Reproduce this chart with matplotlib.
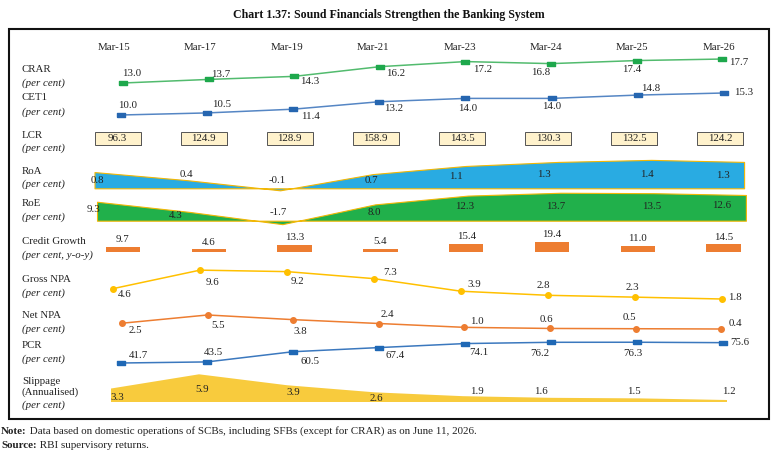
import matplotlib
matplotlib.use("Agg")
import matplotlib.pyplot as plt
from matplotlib.patches import Rectangle

plt.rcParams["font.family"] = ["Liberation Serif", "DejaVu Serif"]

W, H = 777, 458

periods = ["Mar-15", "Mar-17", "Mar-19", "Mar-21", "Mar-23", "Mar-24", "Mar-25", "Mar-26"]
crar = [13.0, 13.7, 14.3, 16.2, 17.2, 16.8, 17.4, 17.7]
cet1 = [10.0, 10.5, 11.4, 13.2, 14.0, 14.0, 14.8, 15.3]
lcr = [96.3, 124.9, 128.9, 158.9, 143.5, 130.3, 132.5, 124.2]
roa = [0.8, 0.4, -0.1, 0.7, 1.1, 1.3, 1.4, 1.3]
roe = [9.3, 4.3, -1.7, 8.0, 12.3, 13.7, 13.5, 12.6]
credit = [9.7, 4.6, 13.3, 5.4, 15.4, 19.4, 11.0, 14.5]
gnpa = [4.6, 9.6, 9.2, 7.3, 3.9, 2.8, 2.3, 1.8]
nnpa = [2.5, 5.5, 3.8, 2.4, 1.0, 0.6, 0.5, 0.4]
pcr = [41.7, 43.5, 60.5, 67.4, 74.1, 76.2, 76.3, 75.6]
slippage = [3.3, 5.9, 3.9, 2.6, 1.9, 1.6, 1.5, 1.2]

FS = 7.8
TXT = "#222222"

fig = plt.figure(figsize=(W / 100, H / 100), dpi=100)


def fx(px):
    return px / W


def fy(py):
    return 1 - py / H


def row_ax(top, bot, x0, dx, v_ref, y_ref, scale):
    # one strip of the chart; x is the period index, y is the row's own value scale
    ax = fig.add_axes([0, 1 - bot / H, 1, (bot - top) / H])
    ax.set_xlim(-x0 / dx, (W - x0) / dx)
    ax.set_ylim(v_ref - (bot - y_ref) / scale, v_ref + (y_ref - top) / scale)
    ax.axis("off")
    return ax


def put_labels(ax, xs, ys, offsets, values=None):
    values = ys if values is None else values
    for x, y, v, (ox, oy) in zip(xs, ys, values, offsets):
        ax.annotate(f"{v:.1f}", (x, y), xytext=(ox, -oy), textcoords="offset pixels",
                    ha="center", va="center", fontsize=FS, color=TXT, annotation_clip=False)


rect_marker = [(-1, -0.5), (1, -0.5), (1, 0.5), (-1, 0.5), (-1, -0.5)]
idx = list(range(len(periods)))

# title, frame, header
fig.text(fx(389), fy(15), "Chart 1.37: Sound Financials Strengthen the Banking System",
         ha="center", va="center", fontsize=8.6, fontweight="bold", color="#111111")
fig.patches.append(Rectangle((fx(9), fy(419)), fx(769) - fx(9), fy(29) - fy(419),
                             transform=fig.transFigure, fill=False, lw=1.5, ec="#111111"))
for i, p in enumerate(periods):
    fig.text(fx(114 + 86.4 * i), fy(47), p, ha="center", va="center", fontsize=FS, color=TXT)

# row titles
row_titles = [
    ("CRAR", 70, False), ("(per cent)", 83, True),
    ("CET1", 97, False), ("(per cent)", 112, True),
    ("LCR", 135, False), ("(per cent)", 148, True),
    ("RoA", 171, False), ("(per cent)", 184, True),
    ("RoE", 203, False), ("(per cent)", 217, True),
    ("Credit Growth", 242, False), ("(per cent, y-o-y)", 255, True),
    ("Gross NPA", 279, False), ("(per cent)", 293, True),
    ("Net NPA", 316, False), ("(per cent)", 329, True),
    ("PCR", 346, False), ("(per cent)", 359, True),
    ("Slippage", 381, False), ("(Annualised)", 392, False), ("(per cent)", 405, True),
]
for t, y, it in row_titles:
    fig.text(fx(22), fy(y), t, ha="left", va="center", fontsize=FS, color=TXT,
             style="italic" if it else "normal")

# CRAR
ax = row_ax(50, 90, 123, 85.6, 13.0, 83, 5.1)
ax.plot(idx, crar, color="#52BB6E", lw=1.1, marker=rect_marker, ms=6,
        mfc="#1EA84C", mec="#1EA84C", clip_on=False)
put_labels(ax, idx, crar, [(9, -9), (12, -5), (16, 5), (16, 7), (17, 8), (-10, 9), (-5, 9), (17, 3)])

# CET1
ax = row_ax(88, 120, 121, 86.1, 10.0, 115, 4.15)
ax.plot(idx, cet1, color="#5586C4", lw=1.1, marker=rect_marker, ms=6,
        mfc="#2666B0", mec="#2666B0", clip_on=False)
put_labels(ax, idx, cet1, [(7, -9), (14, -8), (17, 7), (14, 7), (2, 10), (0, 8), (13, -7), (20, -1)])

# LCR boxes
ax = row_ax(132, 145, 117.5, 86.1, 0, 145, 13)
bw = 46 / 86.1
for i, v in enumerate(lcr):
    ax.add_patch(Rectangle((i - bw / 2 + 0.012, -0.08), bw, 1, fc="#333333", ec="none", clip_on=False))
    ax.add_patch(Rectangle((i - bw / 2, 0), bw, 1, fc="#FFF2CC", ec="#555555", lw=0.7, clip_on=False))
    ax.text(i, 0.5, f"{v:.1f}", ha="center", va="center", fontsize=FS, color=TXT)

# RoA area
ax = row_ax(155, 195, 94.5, 92.8, 0, 188.3, 20.3)
ax.fill_between(idx, 0, roa, fc="#29ABE2", ec="#F2B705", lw=0.8)
put_labels(ax, idx, [0] * 8, [(3, -8), (-1, -14), (-3, -8), (-1, -8), (-10, -12), (-15, -14), (-4, -14), (-21, -13)],
           values=roa)

# RoE area
ax = row_ax(190, 228, 97, 92.7, 0, 220.7, 2.04)
ax.fill_between(idx, 0, roe, fc="#21B04B", ec="#F2B705", lw=0.8)
put_labels(ax, idx, [0] * 8, [(-3, -11), (-14, -5), (-4, -8), (-1, -8), (-3, -14), (-5, -14), (-2, -14), (-24, -15)],
           values=roe)

# Credit growth bars
ax = row_ax(225, 251.7, 123, 85.8, 0, 251.7, 0.52)
ax.bar(idx, credit, width=0.4, color="#ED7D31", clip_on=False)
put_labels(ax, idx, credit, [(0, -7)] * 8)

# Gross NPA
ax = row_ax(262, 305, 113, 87, 1.8, 299, 3.7)
ax.plot(idx, gnpa, color="#FFC000", lw=1.1, marker="o", ms=4, clip_on=False)
put_labels(ax, idx, gnpa, [(12, 6), (13, 12), (10, 10), (16, -6), (13, -7), (-5, -10), (-3, -10), (13, -1)])

# Net NPA
ax = row_ax(308, 335, 122, 85.6, 0.4, 329, 2.75)
ax.plot(idx, nnpa, color="#ED7D31", lw=1.1, marker="o", ms=4, clip_on=False)
put_labels(ax, idx, nnpa, [(13, 7), (10, 11), (7, 12), (9, -9), (12, -6), (-4, -9), (-6, -11), (14, -5)])

# PCR
ax = row_ax(338, 368, 121, 86, 41.7, 363, 0.6)
ax.plot(idx, pcr, color="#3B78BE", lw=1.1, marker=rect_marker, ms=6,
        mfc="#1F68B5", mec="#1F68B5", clip_on=False)
put_labels(ax, idx, pcr, [(17, -7), (6, -9), (17, 10), (16, 8), (14, 9), (-11, 11), (-4, 11), (17, 0)])

# Slippage area
ax = row_ax(370, 402.3, 111, 88, 5.9, 374.3, 5.47)
base = ax.get_ylim()[0]
ax.fill_between(idx, base, slippage, fc="#F8CB3D", ec="none")
put_labels(ax, idx, [base] * 8, [(6, -5), (3, -13), (6, -10), (1, -4), (14, -11), (-10, -11), (-5, -11), (2, -11)],
           values=slippage)

# notes
n1 = fig.text(fx(1), fy(432), "Note:", ha="left", va="center", fontsize=7.9, fontweight="bold", color=TXT)
plt.annotate(" Data based on domestic operations of SCBs, including SFBs (except for CRAR) as on June 11, 2026.",
             xy=(1, 0), xycoords=n1, ha="left", va="bottom", fontsize=7.9, color=TXT)
n2 = fig.text(fx(1), fy(446), "Source:", ha="left", va="center", fontsize=7.9, fontweight="bold", color=TXT)
plt.annotate(" RBI supervisory returns.", xy=(1, 0), xycoords=n2, ha="left", va="bottom",
             fontsize=7.9, color=TXT)

fig.savefig("out.png", dpi=100)
